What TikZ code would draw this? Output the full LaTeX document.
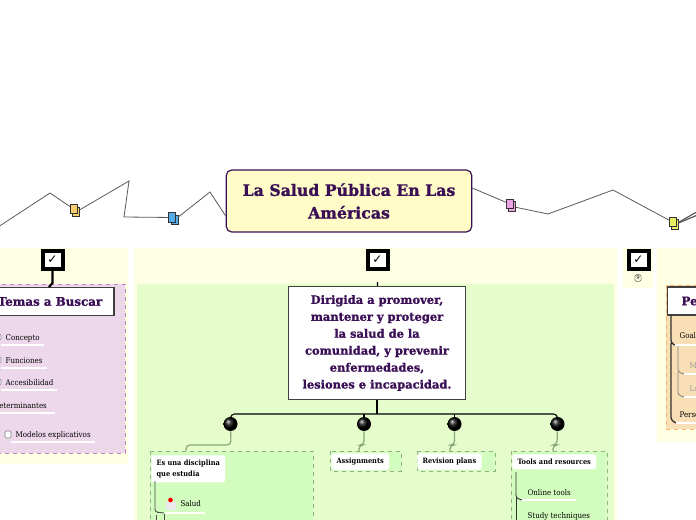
\documentclass[tikz,border=0pt]{standalone}
\usepackage{fontspec}
\setmainfont{DejaVu Serif}
\newfontfamily\slabfont{DejaVu Serif Condensed}
\newfontfamily\symfont{DejaVu Sans}
\newfontfamily\blackfont[BoldFeatures={FakeBold=1.3}]{DejaVu Serif}
\definecolor{titleink}{HTML}{3A0F55}
\definecolor{panelyellow}{HTML}{FEFFE3}
\definecolor{panelgreen}{HTML}{E4FDCB}
\definecolor{boxgreen}{HTML}{D3FDBE}
\definecolor{boxlilac}{HTML}{ECD8EA}
\definecolor{boxorange}{HTML}{F9DFB5}
\definecolor{docorange}{HTML}{F5CF6B}
\definecolor{docblue}{HTML}{55AEE8}
\definecolor{docpink}{HTML}{EBA3E6}
\definecolor{docyellow}{HTML}{E8EE60}
\tikzset{
  panel/.style={fill=panelyellow, draw=none},
  wire/.style={draw=black!65, line width=0.6pt},
  stem/.style={draw=black!35!boxgreen, line width=0.9pt, rounded corners=3pt},
  branch/.style={draw=black, line width=0.8pt, rounded corners=3pt},
  tick/.style={draw=black, line width=3pt, fill=white, minimum width=15pt, minimum height=13pt, inner sep=0pt, font=\symfont\small},
  docicon/.style={draw=black!80, line width=0.5pt, minimum width=5pt, minimum height=7pt, inner sep=0pt},
  bigbox/.style={draw=black!75, line width=0.8pt, fill=white, text=titleink, align=center},
  dot/.style={circle, shading=ball, ball color=black, minimum size=10.5pt, inner sep=0pt},
  subhead/.style={fill=white, rounded corners=2pt, font=\slabfont\bfseries\fontsize{5.5}{8}\selectfont, align=left, inner xsep=4pt, inner ysep=3.5pt, anchor=north west},
  item/.style={font=\slabfont\fontsize{5.9}{7}\selectfont, inner sep=1pt, anchor=base west},
  underline/.style={draw=white, line width=0.9pt},
  dashbox/.style={dashed, line width=0.5pt}
}
\begin{document}
\begin{tikzpicture}[x=0.75pt, y=-0.75pt]
  \useasboundingbox (0,0) rectangle (696,520);
  \clip (0,0) rectangle (696,520);
  % panels
  \fill[panel] (-10,248) rectangle (128,464);
  \fill[panel] (134,248) rectangle (617,530);
  \fill[panel] (623,248) rectangle (653,288);
  \fill[panel] (657,248) rectangle (706,442);
  \fill[panelgreen] (137,284) rectangle (614,530);
  \draw[dashbox, fill=boxlilac, draw=violet!50] (-10,284) rectangle (125,453);
  \draw[dashbox, fill=boxorange, draw=orange!60] (666,285) rectangle (706,429);
  \draw[dashbox, fill=boxgreen, draw=black!30!boxgreen] (150,451) rectangle (313,530);
  \draw[dashbox, fill=boxgreen, draw=black!30!boxgreen] (330,451) rectangle (401,471);
  \draw[dashbox, fill=boxgreen, draw=black!30!boxgreen] (417,451) rectangle (495,471);
  \draw[dashbox, fill=boxgreen, draw=black!30!boxgreen] (511,451) rectangle (607,530);
  % root and relation wires
  \node[draw=titleink, line width=0.9pt, fill=yellow!22, rounded corners=4pt, minimum width=184pt, minimum height=46.5pt,
    align=center, text=titleink, font=\blackfont\bfseries\fontsize{11.8}{17}\selectfont] (root) at (349,201)
    {La Salud Pública En Las\\Américas};
  \node[docicon, fill=docorange] (docb) at (76,212) {};
  \node[docicon, fill=docorange] (doca) at (73.5,209) {};
  \node[docicon, fill=docblue] (docd) at (174.5,220) {};
  \node[docicon, fill=docblue] (docc) at (172,217.5) {};
  \node[docicon, fill=docpink] (docf) at (512,206.5) {};
  \node[docicon, fill=docpink] (doce) at (510,204) {};
  \node[docicon, fill=docyellow] (doch) at (675,224.5) {};
  \node[docicon, fill=docyellow] (docg) at (672.5,222) {};
  \coordinate (w1) at (-5,229);
  \coordinate (w2) at (50,193);
  \coordinate (w3) at (129,181);
  \coordinate (w4) at (124,217);
  \coordinate (w5) at (210,192);
  \coordinate (w6) at (548,214);
  \coordinate (w7) at (613,190);
  \coordinate (w8) at (700,210);
  \coordinate (w9) at (700,214);
  \draw[wire] (w1) -- (w2) -- (doca);
  \draw[wire] (docb) -- (w3) -- (w4) -- (docc);
  \draw[wire] (docd) -- (w5) -- (root.187.4);
  \draw[wire] (root.6.5) -- (doce);
  \draw[wire] (docf) -- (w6) -- (w7) -- (docg);
  \draw[wire, line width=0.9pt] (doch) -- (w8);
  \draw[wire, line width=0.9pt] (doch) -- (w9);
  % check boxes
  \foreach \n/\x in {chka/52.5, chkb/377.5, chkc/638.5} {
    \node[tick] (\n) at (\x,260) {✓};
  }
  \node[draw=black!60, rounded corners=1pt, inner sep=1pt, font=\fontsize{4}{4}\selectfont] (small) at (638,278) {9};
  % main nodes
  \node[bigbox, minimum width=133pt, minimum height=85pt, font=\blackfont\bfseries\fontsize{8.6}{12.7}\selectfont] (main) at (377,343)
    {Dirigida a promover,\\mantener y proteger\\la salud de la\\comunidad, y prevenir\\enfermedades,\\lesiones e incapacidad.};
  \node[bigbox, minimum width=96pt, minimum height=21pt, font=\blackfont\bfseries\fontsize{8.9}{12}\selectfont] (temas) at (50,301.5) {Temas a Buscar};
  \node[bigbox, minimum width=93pt, minimum height=21pt, anchor=west, inner xsep=9pt, align=left, text width=72pt, font=\blackfont\bfseries\fontsize{8.9}{12}\selectfont] (pers) at (667,301) {Pe};
  \coordinate (stub) at (377.5,282);
  \draw[line width=1.6pt] (chka) -- (52.5,283) -- (49,287);
  \draw[line width=1pt] (stub) -- (main);
  % dots under main node
  \coordinate (bus) at (377,414);
  \draw[line width=1.2pt] (main) -- (bus);
  \foreach \n/\x in {da/230.5, db/364, dc/454.5, dd/557.5} {
    \node[dot] (\n) at (\x,424) {};
  }
  \draw[branch] (da.north) -- (230.5,414) -- (557.5,414) -- (dd.north);
  \draw[branch] (db.north) -- (364,414);
  \draw[branch] (dc.north) -- (454.5,414);
  % sub headings
  \node[subhead] (hesuna) at (151,455) {Es una disciplina\\que estudia};
  \node[subhead] (hassign) at (331,453) {Assignments};
  \node[subhead] (hrevis) at (417,453) {Revision plans};
  \node[subhead] (htools) at (512,454) {Tools and resources};
  \coordinate (s1) at (186,445);
  \coordinate (s2) at (359,445);
  \coordinate (s3) at (450,445);
  \coordinate (s4) at (553,445);
  \draw[stem] (da) -- (231,445) -- (s1) -- (186,451);
  \draw[stem] (db) -- (364,445) -- (s2) -- (359,451);
  \draw[stem] (dc) -- (454.5,445) -- (s3) -- (450,451);
  \draw[stem] (dd) -- (557,445) -- (s4) -- (553,451);
  % lilac list
  \foreach \n/\x/\y/\t/\w in {ia/4/340/Concepto/44, ib/4/363/Funciones/47, ic/4/385/Accesibilidad/57, id/-8/408/Determinantes/55, ie/14/437/Modelos explicativos/95} {
    \node[item] (\n) at (\x,\y) {\t};
    \draw[underline] (\x-3,\y+5) -- (\w,\y+5);
  }
  \foreach \y in {337,360,382} {
    \draw[draw=black!50, fill=white, rounded corners=1pt] (-4,\y-3) rectangle (1,\y+3);
  }
  \draw[draw=black!50, fill=white, rounded corners=1pt] (5,431) rectangle (11,438);
  % green lists
  \node[item] (salud) at (179,506) {Salud};
  \node[fill=black!8, minimum width=8pt, minimum height=6pt, inner sep=0pt] (env) at (171,506) {};
  \node[circle, fill=red, minimum size=3.5pt, inner sep=0pt] (pin) at (170.5,500) {};
  \draw[underline] (165,513) -- (205,513);
  \node[item] (online) at (526,495) {Online tools};
  \draw[underline] (522,500) -- (576,500);
  \node[item] (study) at (526,518) {Study techniques};
  \draw[draw=black!70, line width=0.7pt, rounded corners=2pt] (155,481) -- (155,512) -- (164,513);
  \draw[draw=black!70, line width=0.7pt] (164,514) -- (164,525);
  \draw[draw=black!70, line width=0.7pt] (156,515) -- (156,525);
  \draw[draw=black!80, line width=0.7pt, rounded corners=2pt] (516,472) -- (516,498) -- (522,500);
  \draw[draw=black!80, line width=0.7pt] (516,498) -- (516,525);
  % orange list
  \draw[draw=black!80, line width=1pt, rounded corners=2pt] (671,315) -- (671,343) -- (675,345) (671,343) -- (671,420) -- (676,423);
  \draw[draw=black!50, line width=0.6pt, rounded corners=2pt] (678,346) -- (678,372) -- (684,374) (678,372) -- (678,395) -- (684,397);
  \draw[underline] (675,345) -- (700,345);
  \draw[underline] (684,374) -- (700,374);
  \draw[underline] (684,397) -- (700,397);
  \draw[underline] (676,423) -- (700,423);
  \node[item] (goal) at (678,339) {Goals};
  \node[item, text=black!40] (mm) at (688,368) {M};
  \node[item, text=black!40] (ll) at (688,391) {Lo};
  \node[item] (perso) at (678,417) {Perso};
\end{tikzpicture}
\end{document}
